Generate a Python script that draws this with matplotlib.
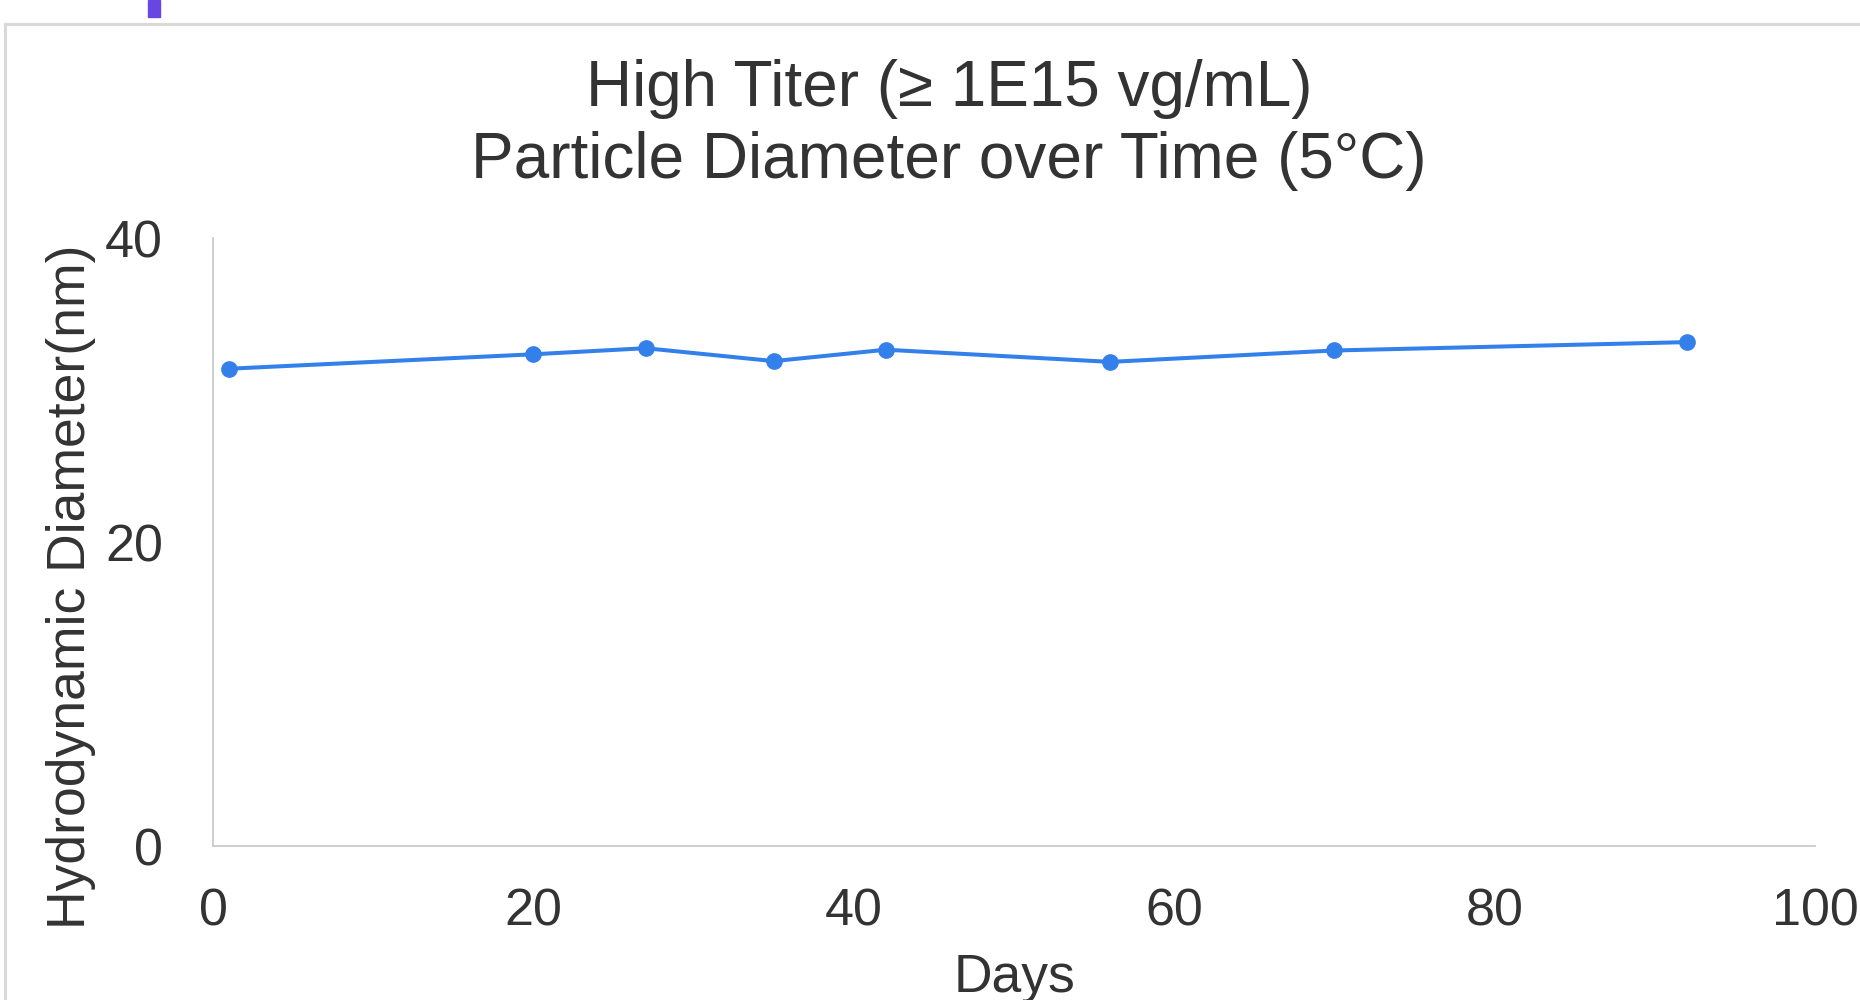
import matplotlib
matplotlib.use("Agg")
import matplotlib.pyplot as plt
from matplotlib.lines import Line2D
from matplotlib.patches import Rectangle

days = [1, 20, 27, 35, 42, 56, 70, 92]
diameter = [31.4, 32.35, 32.75, 31.9, 32.65, 31.85, 32.6, 33.15]
x_ticks = [0, 20, 40, 60, 80, 100]
y_ticks = [0, 20, 40]
title = "High Titer (\u2265 1E15 vg/mL)\nParticle Diameter over Time (5\u00b0C)"
x_label = "Days"
y_label = "Hydrodynamic Diameter(nm)"

plt.rcParams['font.family'] = ['Liberation Sans', 'DejaVu Sans']
text_color = "#333333"
line_color = "#3480EA"

W, H = 1860, 1000
fig = plt.figure(figsize=(W / 100, H / 100), dpi=100)
fig.patch.set_facecolor("white")

# frame lines of the screenshot
fig.add_artist(Line2D([5 / W, 1.0], [1 - 24 / H, 1 - 24 / H], color="#d9d9d9", lw=2.2, transform=fig.transFigure))
fig.add_artist(Line2D([5 / W, 5 / W], [0, 1 - 24 / H], color="#d9d9d9", lw=2.2, transform=fig.transFigure))
fig.add_artist(Rectangle((148 / W, 1 - 17 / H), 12 / W, 17 / H, color="#6846E2", transform=fig.transFigure))

ax = fig.add_axes([213 / W, 1 - 846 / H, (1815 - 213) / W, (846 - 238) / H])
ax.plot(days, diameter, color=line_color, lw=2.9, marker="o", markersize=11, clip_on=False)

ax.set_xlim(0, 100)
ax.set_ylim(0, 40)
ax.set_xticks(x_ticks)
ax.set_yticks(y_ticks)
ax.tick_params(axis="both", length=0, labelsize=37.5, labelcolor=text_color)
ax.tick_params(axis="x", pad=30)
ax.tick_params(axis="y", pad=36)
for s in ["top", "right"]:
    ax.spines[s].set_visible(False)
for s in ["left", "bottom"]:
    ax.spines[s].set_color("#cccccc")
    ax.spines[s].set_linewidth(1.3)

fig.text(949 / W, 1 - 125 / H, title, ha="center", va="center", fontsize=46,
         color=text_color, linespacing=1.24)
fig.text(1014 / W, 1 - 978 / H, x_label, ha="center", va="center", fontsize=38.5, color=text_color)
fig.text(71 / W, 1 - 587 / H, y_label, ha="center", va="center", rotation=90, fontsize=38.5, color=text_color)

fig.savefig("out.png", dpi=100)
